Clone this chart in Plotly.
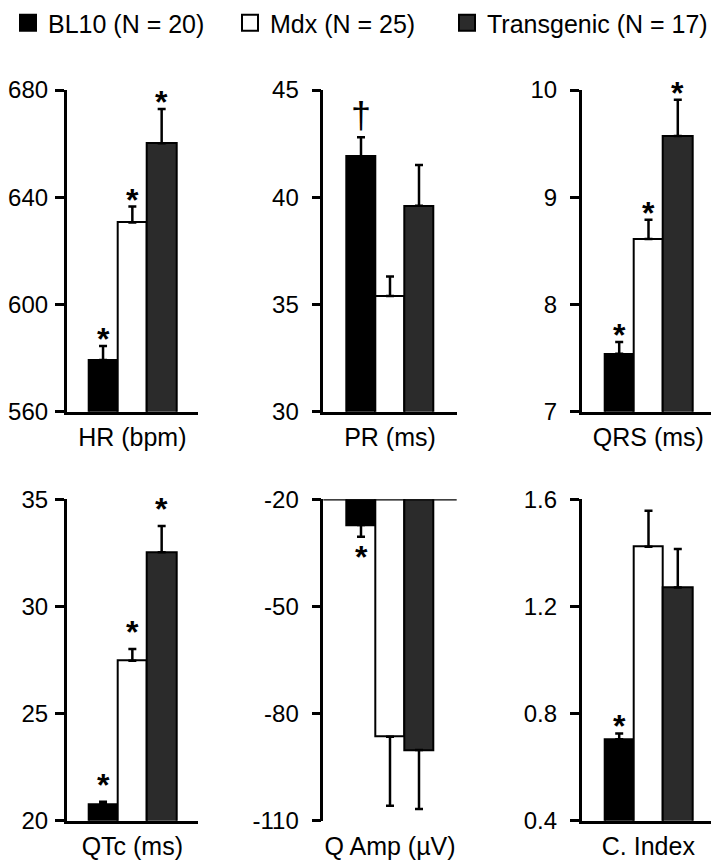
import plotly.graph_objects as go

groups = ["BL10 (N = 20)", "Mdx (N = 25)", "Transgenic (N = 17)"]
group_colors = ["#000000", "#ffffff", "#2b2b2b"]

panel_titles = ["HR (bpm)", "PR (ms)", "QRS (ms)", "QTc (ms)", "Q Amp (\u00b5V)", "C. Index"]

# mean and SEM per group (BL10, Mdx, Transgenic)
hr_mean = [579.3, 630.6, 660.1]
hr_sem = [5.2, 5.9, 12.8]
pr_mean = [41.9, 35.4, 39.6]
pr_sem = [0.9, 0.9, 1.9]
qrs_mean = [7.54, 8.61, 9.57]
qrs_sem = [0.11, 0.18, 0.34]
qtc_mean = [20.78, 27.47, 32.53]
qtc_sem = [0.11, 0.54, 1.22]
qamp_mean = [-27.2, -86.5, -90.2]
qamp_sem = [3.3, 19.3, 16.5]
cindex_mean = [0.704, 1.423, 1.271]
cindex_sem = [0.022, 0.134, 0.143]

# significance marks
hr_sig = ["*", "*", "*"]
pr_sig = ["\u2020", "", ""]
qrs_sig = ["*", "*", "*"]
qtc_sig = ["*", "*", "*"]
qamp_sig = ["*", "", ""]
cindex_sig = ["*", "", ""]

hr_ticks = [560, 600, 640, 680]
pr_ticks = [30, 35, 40, 45]
qrs_ticks = [7, 8, 9, 10]
qtc_ticks = [20, 25, 30, 35]
qamp_ticks = [-110, -80, -50, -20]
cindex_ticks = [0.4, 0.8, 1.2, 1.6]

panels = [
    (hr_mean, hr_sem, hr_sig, hr_ticks),
    (pr_mean, pr_sem, pr_sig, pr_ticks),
    (qrs_mean, qrs_sem, qrs_sig, qrs_ticks),
    (qtc_mean, qtc_sem, qtc_sig, qtc_ticks),
    (qamp_mean, qamp_sem, qamp_sig, qamp_ticks),
    (cindex_mean, cindex_sem, cindex_sig, cindex_ticks),
]

# the page body keeps its default 8px margin, so lay out in a slightly smaller figure
OFF = 8
W, H = 719 - OFF, 863 - OFF
FONT = "Liberation Sans, Arial, sans-serif"
col_px = [(66.7, 198), (323.3, 456.7), (581.7, 715)]
row_px = [(90, 411.7), (499.3, 820.7)]
x_ranges = [[-1.24, 3.24], [-1.3, 3.3], [-1.28, 3.27]]
label_standoff = [2, 8, 8]
mark_shift = [7, 7, 7, 17, -20, 7]


def fx(px):
    return (px - OFF) / W


def fy(py):
    return 1 - (py - OFF) / H


fig = go.Figure()
layout = {}
annotations = []
shapes = []

for k, (mean, sem, sig, ticks) in enumerate(panels):
    r, c = divmod(k, 3)
    sfx = "" if k == 0 else str(k + 1)
    negative = mean[0] < 0
    err_up = [0] * 3 if negative else sem
    err_down = sem if negative else [0] * 3

    fig.add_trace(go.Bar(
        x=[0, 1, 2], y=mean, width=1,
        marker=dict(color=group_colors, line=dict(color="black", width=2)),
        error_y=dict(type="data", symmetric=False, array=err_up, arrayminus=err_down,
                     color="black", thickness=2.5, width=4),
        xaxis="x" + sfx, yaxis="y" + sfx, showlegend=False, hoverinfo="skip",
    ))

    x0, x1 = col_px[c]
    y0, y1 = row_px[r]
    layout["xaxis" + sfx] = dict(
        domain=[fx(x0), fx(x1)], anchor="y" + sfx, range=x_ranges[c], automargin=False,
        showline=not negative, linewidth=2.5, linecolor="black",
        showticklabels=False, ticks="", showgrid=False, zeroline=False,
        title=dict(text=panel_titles[k], font=dict(size=25, color="black"), standoff=16),
    )
    layout["yaxis" + sfx] = dict(
        domain=[fy(y1), fy(y0)], anchor="x" + sfx, range=[ticks[0], ticks[-1]],
        automargin=False,
        showline=True, linewidth=2.5, linecolor="black",
        ticks="outside", ticklen=9, tickwidth=2.5, tickcolor="black",
        tickvals=ticks, ticktext=[str(t) for t in ticks],
        tickfont=dict(size=24, color="black"), ticklabelstandoff=label_standoff[c],
        showgrid=False, zeroline=False,
    )
    if negative:
        shapes.append(dict(type="line", xref="x" + sfx + " domain", yref="y" + sfx,
                           x0=0, x1=1, y0=ticks[-1], y1=ticks[-1],
                           line=dict(color="black", width=2.5)))

    for i in range(3):
        if not sig[i]:
            continue
        dagger = sig[i] != "*"
        yv = mean[i] - sem[i] if negative else mean[i] + sem[i]
        annotations.append(dict(
            x=i, y=yv, xref="x" + sfx, yref="y" + sfx, text=sig[i], showarrow=False,
            yanchor="middle", yshift=22 if dagger else mark_shift[k],
            font=dict(size=36 if dagger else 32, color="black", family=FONT,
                      weight="normal" if dagger else "bold"),
        ))

# legend entries, one legend each so they can sit where the original has them
legend_x = [0.0, 222 / W, 439 / W]
for g, name in enumerate(groups):
    lid = "legend" if g == 0 else "legend" + str(g + 1)
    fig.add_trace(go.Scatter(
        x=[None], y=[None], mode="markers", name=name, legend=lid,
        marker=dict(symbol="square", size=16, color=group_colors[g],
                    line=dict(color="black", width=2)),
    ))
    layout[lid] = dict(x=legend_x[g], y=1 - 15 / H, xref="container", yref="container",
                       xanchor="left", yanchor="middle",
                       font=dict(size=25, color="black"), bgcolor="rgba(0,0,0,0)",
                       itemclick=False, itemdoubleclick=False)

fig.update_layout(
    **layout,
    width=W, height=H,
    margin=dict(l=0, r=0, t=0, b=0, autoexpand=False),
    paper_bgcolor="white", plot_bgcolor="white",
    font=dict(family=FONT, color="black"),
    bargap=0,
    annotations=annotations,
    shapes=shapes,
)

fig.write_html("out.html")
